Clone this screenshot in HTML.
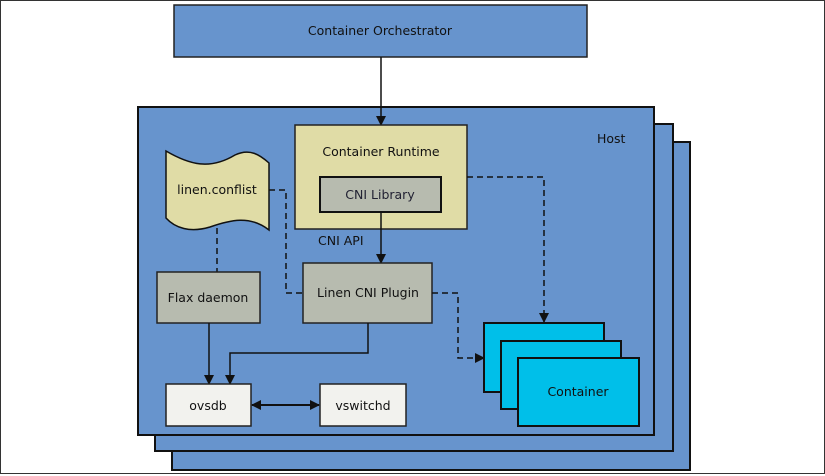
<!DOCTYPE html>
<html><head><meta charset="utf-8"><style>
html,body{margin:0;padding:0;background:#fff}
svg{display:block}
text{font-family:"DejaVu Sans","Liberation Sans",sans-serif;font-size:12.5px;fill:#111}
</style></head><body>
<svg width="825" height="476" viewBox="0 0 825 476" xmlns="http://www.w3.org/2000/svg">
<defs>
<marker id="a" markerWidth="10" markerHeight="10" refX="9" refY="5" orient="auto" markerUnits="userSpaceOnUse"><path d="M0,0 L10,5 L0,10 z" fill="#111"/></marker>
<marker id="b" markerWidth="10" markerHeight="10" refX="1" refY="5" orient="auto" markerUnits="userSpaceOnUse"><path d="M10,0 L0,5 L10,10 z" fill="#111"/></marker>
</defs>
<rect x="0.5" y="0.5" width="824" height="473" fill="#fff" stroke="#333" stroke-width="1"/>
<rect x="174" y="5" width="413" height="52" fill="#6794cd" stroke="#222" stroke-width="1.5"/>
<text x="380" y="35" text-anchor="middle">Container Orchestrator</text>
<rect x="172" y="142" width="518" height="328" fill="#6794cd" stroke="#111" stroke-width="2"/>
<rect x="155" y="124" width="518" height="327" fill="#6794cd" stroke="#111" stroke-width="2"/>
<rect x="138" y="107" width="516" height="328" fill="#6794cd" stroke="#111" stroke-width="2"/>
<text x="597" y="143">Host</text>
<line x1="381" y1="57" x2="381" y2="125" stroke="#111" stroke-width="1.5" marker-end="url(#a)"/>
<rect x="295" y="125" width="172" height="104" fill="#e0dca6" stroke="#222" stroke-width="1.5"/>
<text x="381" y="156" text-anchor="middle">Container Runtime</text>
<rect x="320" y="177" width="121" height="35" fill="#b7bbaf" stroke="#111" stroke-width="2"/>
<text x="380" y="199" text-anchor="middle" style="fill:#223">CNI Library</text>
<line x1="381" y1="212" x2="381" y2="263" stroke="#111" stroke-width="1.5" marker-end="url(#a)"/>
<text x="318" y="245">CNI API</text>
<path d="M166,151 C190,165 210,170 235,155 C250,148 260,155 269,163 L269,230 C250,215 230,220 210,227 C190,233 175,228 166,218 Z" fill="#e0dca6" stroke="#111" stroke-width="1.5"/>
<text x="217" y="194" text-anchor="middle">linen.conflist</text>
<path d="M269,190 H286 V293 H303" fill="none" stroke="#111" stroke-width="1.5" stroke-dasharray="6,4"/>
<line x1="217" y1="228" x2="217" y2="272" stroke="#111" stroke-width="1.5" stroke-dasharray="6,4"/>
<rect x="157" y="272" width="103" height="51" fill="#b7bbaf" stroke="#222" stroke-width="1.5"/>
<text x="208" y="302" text-anchor="middle">Flax daemon</text>
<rect x="303" y="263" width="129" height="60" fill="#b7bbaf" stroke="#222" stroke-width="1.5"/>
<text x="368" y="297" text-anchor="middle">Linen CNI Plugin</text>
<path d="M467,177 H544 V322" fill="none" stroke="#111" stroke-width="1.5" stroke-dasharray="6,4" marker-end="url(#a)"/>
<path d="M432,293 H458 V358 H484" fill="none" stroke="#111" stroke-width="1.5" stroke-dasharray="6,4" marker-end="url(#a)"/>
<rect x="484" y="323" width="120" height="69" fill="#00bfe9" stroke="#111" stroke-width="2"/>
<rect x="501" y="341" width="120" height="68" fill="#00bfe9" stroke="#111" stroke-width="2"/>
<rect x="518" y="358" width="121" height="68" fill="#00bfe9" stroke="#111" stroke-width="2"/>
<text x="578" y="396" text-anchor="middle">Container</text>
<line x1="209" y1="323" x2="209" y2="384" stroke="#111" stroke-width="1.5" marker-end="url(#a)"/>
<path d="M368,323 V353 H230 V384" fill="none" stroke="#111" stroke-width="1.5" marker-end="url(#a)"/>
<rect x="166" y="384" width="85" height="42" fill="#f2f2ee" stroke="#222" stroke-width="1.5"/>
<text x="208" y="410" text-anchor="middle">ovsdb</text>
<rect x="320" y="384" width="86" height="42" fill="#f2f2ee" stroke="#222" stroke-width="1.5"/>
<text x="363" y="410" text-anchor="middle">vswitchd</text>
<line x1="252" y1="405" x2="319" y2="405" stroke="#111" stroke-width="2" marker-start="url(#b)" marker-end="url(#a)"/>
</svg>
</body></html>
